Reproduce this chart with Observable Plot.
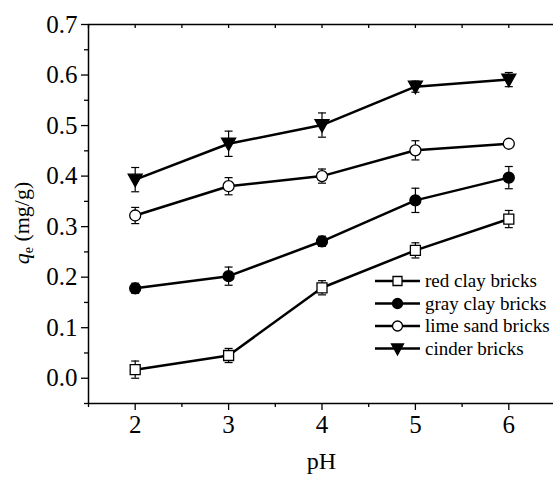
<!DOCTYPE html>
<html><head><meta charset="utf-8">
<script src="https://cdn.jsdelivr.net/npm/d3@7"></script>
<script src="https://cdn.jsdelivr.net/npm/@observablehq/plot@0.6"></script>
<style>body{margin:0;background:#fff;} #chart svg{display:block;} #chart svg text{font-family:"Liberation Serif","Times New Roman",Times,serif;}</style>
</head><body><div id="chart"></div>
<script>
// ---- data ----
const ph = [2, 3, 4, 5, 6];
const seriesNames = ["red clay bricks", "gray clay bricks", "lime sand bricks", "cinder bricks"];
const redClay     = [0.017, 0.045, 0.179, 0.253, 0.315];
const redClayErr  = [0.017, 0.014, 0.014, 0.015, 0.017];
const grayClay    = [0.178, 0.202, 0.271, 0.352, 0.397];
const grayClayErr = [0.010, 0.018, 0.010, 0.024, 0.022];
const limeSand    = [0.322, 0.380, 0.400, 0.451, 0.464];
const limeSandErr = [0.016, 0.017, 0.014, 0.019, 0.007];
const cinder      = [0.393, 0.464, 0.501, 0.577, 0.591];
const cinderErr   = [0.024, 0.025, 0.024, 0.011, 0.014];
const yTicks = [0.0, 0.1, 0.2, 0.3, 0.4, 0.5, 0.6, 0.7];
const yMinorTicks = [-0.05, 0.05, 0.15, 0.25, 0.35, 0.45, 0.55, 0.65];
const xTicks = [2, 3, 4, 5, 6];
const xMinorTicks = [1.5, 2.5, 3.5, 4.5, 5.5, 6.5];
const xAllTicks = [1.5, 2, 2.5, 3, 3.5, 4, 4.5, 5, 5.5, 6, 6.5];
const xTitle = "pH";
const yTitleMain = "q", yTitleSub = "e", yTitleRest = " (mg/g)";

const valuesList = [redClay, grayClay, limeSand, cinder];
const errList = [redClayErr, grayClayErr, limeSandErr, cinderErr];
const rows = [];
seriesNames.forEach((name, s) => ph.forEach((p, i) => rows.push({
  series: name, ph: p, q: valuesList[s][i], lo: valuesList[s][i] - errList[s][i], hi: valuesList[s][i] + errList[s][i]
})));

// ---- custom symbols (pixel geometry) ----
const capSym = {draw(c) { c.moveTo(-4, 0); c.lineTo(4, 0); }};
const squareSym = (h) => ({draw(c) { c.rect(-h, -h, 2 * h, 2 * h); }});
const circleSym = (r) => ({draw(c) { c.moveTo(r, 0); c.arc(0, 0, r, 0, 2 * Math.PI); c.closePath(); }});
const triSym = (w, t, b) => ({draw(c) { c.moveTo(-w, -t); c.lineTo(w, -t); c.lineTo(0, b); c.closePath(); }});
const styleFor = {
  "red clay bricks":  {symbol: squareSym(5), fill: "white"},
  "gray clay bricks": {symbol: circleSym(5.5), fill: "black"},
  "lime sand bricks": {symbol: circleSym(5.5), fill: "white"},
  "cinder bricks":    {symbol: triSym(7, 5.5, 7), fill: "black"}
};
const legendStyle = {
  "red clay bricks":  {symbol: squareSym(4.5), fill: "white"},
  "gray clay bricks": {symbol: circleSym(5), fill: "black"},
  "lime sand bricks": {symbol: circleSym(5), fill: "white"},
  "cinder bricks":    {symbol: triSym(6, 4.5, 6.5), fill: "black"}
};

const W = 553, H = 478;
const x0 = 88, yTop = 24, yBot = 403;
const blank = () => "";
const serif = "'Liberation Serif', 'Times New Roman', Times, serif";

const marks = [
  Plot.ruleY([0.7], {stroke: "black", strokeWidth: 1.5}),
  Plot.ruleY([-0.05], {stroke: "black", strokeWidth: 1.5}),
  Plot.ruleX([1.5], {stroke: "black", strokeWidth: 1.5}),
  Plot.axisY(yTicks, {tickSize: 7, tickPadding: 4, tickFormat: d3.format(".1f"), label: null, fontSize: 25, strokeWidth: 1.3}),
  Plot.axisY(yMinorTicks, {tickSize: 4, tickFormat: blank, label: null, strokeWidth: 1.3}),
  Plot.axisX(xTicks, {tickSize: 7, tickPadding: 5, tickFormat: d => String(d), label: null, fontSize: 25, strokeWidth: 1.3}),
  Plot.axisX(xMinorTicks, {tickSize: 4, tickFormat: blank, label: null, strokeWidth: 1.3}),
  Plot.axisX(xAllTicks, {anchor: "top", tickSize: -3, tickFormat: blank, label: null, strokeWidth: 1.3}),
  // error bars
  Plot.ruleX(rows, {x: "ph", y1: "lo", y2: "hi", stroke: "black", strokeWidth: 1.2}),
  Plot.dot(rows, {x: "ph", y: "lo", symbol: capSym, stroke: "black", fill: "none", strokeWidth: 1.2}),
  Plot.dot(rows, {x: "ph", y: "hi", symbol: capSym, stroke: "black", fill: "none", strokeWidth: 1.2}),
  // lines
  Plot.line(rows, {x: "ph", y: "q", z: "series", stroke: "black", strokeWidth: 2.5})
];
seriesNames.forEach(name => {
  const st = styleFor[name];
  marks.push(Plot.dot(rows.filter(d => d.series === name), {
    x: "ph", y: "q", symbol: st.symbol, fill: st.fill, stroke: "black", strokeWidth: 1.3
  }));
});

const chart = Plot.plot({
  width: W, height: H,
  marginLeft: x0, marginTop: yTop, marginBottom: H - yBot, marginRight: 0,
  style: {fontFamily: serif, fontSize: "25px", color: "black", background: "white"},
  x: {domain: [1.5, 6.5], range: [x0, 555], axis: null},
  y: {domain: [-0.05, 0.7], range: [yBot, yTop], axis: null},
  marks
});

const svg = d3.select(chart);
// x title
svg.append("text").attr("x", 321.5).attr("y", 469).attr("text-anchor", "middle")
  .style("font-family", serif).attr("font-size", 24).attr("fill", "black").text(xTitle);
// y title with italic q and subscript e
const yt = svg.append("text").attr("transform", "translate(29,223) rotate(-90)").attr("text-anchor", "middle")
  .style("font-family", serif).attr("font-size", 22).attr("fill", "black");
yt.append("tspan").attr("font-style", "italic").text(yTitleMain);
yt.append("tspan").attr("font-size", 14).attr("dy", 4).text(yTitleSub);
yt.append("tspan").attr("dy", -4).text(yTitleRest);

// legend
const lg = svg.append("g");
const rowY = [281, 303.5, 326, 348.5];
seriesNames.forEach((name, i) => {
  const y = rowY[i];
  lg.append("line").attr("x1", 375).attr("x2", 420).attr("y1", y).attr("y2", y)
    .attr("stroke", "black").attr("stroke-width", 2.5);
  const st = legendStyle[name];
  lg.append("path").attr("transform", `translate(397.5,${y})`).attr("d", d3.symbol(st.symbol)())
    .attr("fill", st.fill).attr("stroke", "black").attr("stroke-width", 1.3);
  lg.append("text").attr("x", 425).attr("y", y).attr("dy", "0.33em").attr("text-anchor", "start")
    .style("font-family", serif).attr("font-size", 19).attr("fill", "black").text(name);
});

document.getElementById("chart").appendChild(chart);
</script>
</body></html>
